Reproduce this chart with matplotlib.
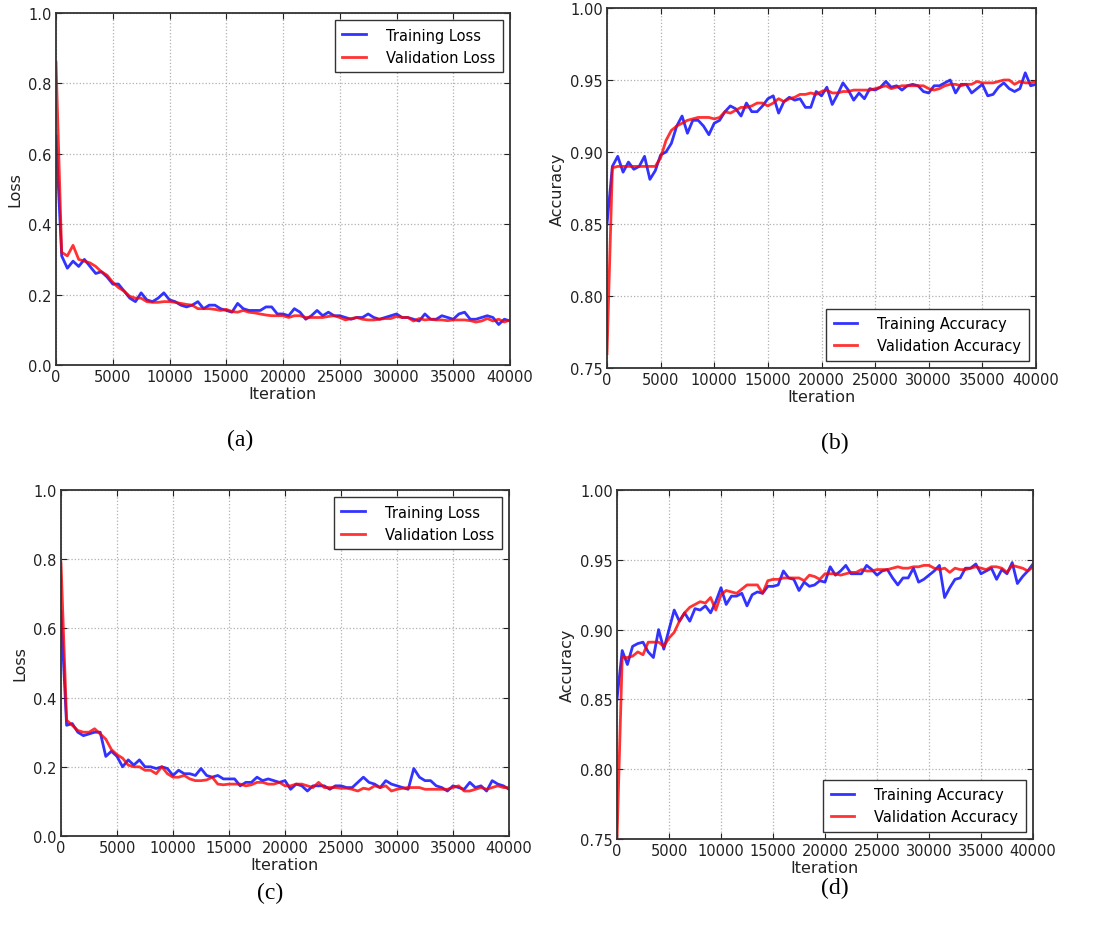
import numpy as np
import matplotlib
matplotlib.use("Agg")
import matplotlib.pyplot as plt

# iterations sampled every 500 steps
iters = np.arange(0, 40001, 500)

# (a) loss
train_loss_a = [0.65, 0.31, 0.275, 0.295, 0.28, 0.30, 0.28, 0.26, 0.265, 0.25,
                0.23, 0.23, 0.21, 0.19, 0.18, 0.205, 0.185, 0.18, 0.19, 0.205,
                0.185, 0.18, 0.17, 0.165, 0.17, 0.18, 0.16, 0.17, 0.17, 0.16,
                0.155, 0.15, 0.175, 0.16, 0.155, 0.155, 0.155, 0.165, 0.165, 0.145,
                0.145, 0.14, 0.16, 0.15, 0.13, 0.14, 0.155, 0.14, 0.15, 0.14,
                0.14, 0.135, 0.13, 0.135, 0.135, 0.145, 0.135, 0.13, 0.135, 0.14,
                0.145, 0.135, 0.135, 0.13, 0.125, 0.145, 0.13, 0.13, 0.14, 0.135,
                0.13, 0.145, 0.15, 0.13, 0.13, 0.135, 0.14, 0.135, 0.115, 0.13,
                0.125]
val_loss_a = [0.86, 0.32, 0.31, 0.34, 0.30, 0.295, 0.29, 0.28, 0.265, 0.255,
              0.235, 0.22, 0.21, 0.195, 0.19, 0.19, 0.18, 0.178, 0.178, 0.18,
              0.18, 0.178, 0.175, 0.172, 0.17, 0.16, 0.16, 0.16, 0.158, 0.155,
              0.158, 0.152, 0.15, 0.155, 0.15, 0.148, 0.145, 0.142, 0.14, 0.14,
              0.14, 0.135, 0.14, 0.14, 0.135, 0.135, 0.135, 0.135, 0.138, 0.14,
              0.135, 0.128, 0.132, 0.135, 0.13, 0.128, 0.128, 0.13, 0.132, 0.132,
              0.138, 0.135, 0.135, 0.125, 0.132, 0.128, 0.13, 0.128, 0.128, 0.126,
              0.128, 0.128, 0.128, 0.126, 0.122, 0.125, 0.132, 0.125, 0.13, 0.122,
              0.128]

# (b) accuracy
train_acc_b = [0.85, 0.89, 0.897, 0.886, 0.893, 0.888, 0.89, 0.897, 0.881, 0.887,
               0.898, 0.90, 0.906, 0.918, 0.925, 0.913, 0.922, 0.922, 0.918, 0.912,
               0.92, 0.922, 0.928, 0.932, 0.93, 0.925, 0.934, 0.928, 0.928, 0.932,
               0.937, 0.939, 0.927, 0.935, 0.938, 0.936, 0.937, 0.931, 0.931, 0.942,
               0.939, 0.945, 0.933, 0.94, 0.948, 0.943, 0.936, 0.941, 0.937, 0.944,
               0.943, 0.945, 0.949, 0.945, 0.946, 0.943, 0.946, 0.947, 0.946, 0.942,
               0.941, 0.946, 0.946, 0.948, 0.95, 0.941, 0.947, 0.947, 0.941, 0.944,
               0.947, 0.939, 0.94, 0.945, 0.948, 0.944, 0.942, 0.944, 0.955, 0.946,
               0.947]
val_acc_b = [0.76, 0.889, 0.89, 0.89, 0.89, 0.89, 0.89, 0.89, 0.89, 0.89,
             0.896, 0.908, 0.915, 0.918, 0.92, 0.922, 0.923, 0.924, 0.924, 0.924,
             0.923, 0.924, 0.928, 0.927, 0.929, 0.931, 0.931, 0.932, 0.934, 0.934,
             0.932, 0.934, 0.937, 0.935, 0.937, 0.938, 0.94, 0.94, 0.941, 0.94,
             0.942, 0.943, 0.941, 0.941, 0.942, 0.942, 0.943, 0.943, 0.943, 0.943,
             0.944, 0.945, 0.946, 0.944, 0.945, 0.946, 0.946, 0.946, 0.946, 0.946,
             0.944, 0.943, 0.944, 0.946, 0.947, 0.947, 0.946, 0.947, 0.947, 0.949,
             0.948, 0.948, 0.948, 0.949, 0.95, 0.95, 0.947, 0.949, 0.948, 0.948,
             0.949]

# (c) loss
train_loss_c = [0.65, 0.32, 0.325, 0.30, 0.29, 0.295, 0.30, 0.30, 0.23, 0.245,
                0.23, 0.20, 0.22, 0.205, 0.22, 0.20, 0.20, 0.195, 0.20, 0.195,
                0.175, 0.19, 0.18, 0.18, 0.175, 0.195, 0.175, 0.17, 0.175, 0.165,
                0.165, 0.165, 0.145, 0.155, 0.155, 0.17, 0.16, 0.165, 0.16, 0.155,
                0.16, 0.135, 0.15, 0.145, 0.13, 0.145, 0.145, 0.145, 0.135, 0.145,
                0.145, 0.14, 0.14, 0.155, 0.17, 0.155, 0.15, 0.14, 0.16, 0.15,
                0.145, 0.14, 0.135, 0.195, 0.17, 0.16, 0.16, 0.145, 0.14, 0.13,
                0.145, 0.14, 0.135, 0.155, 0.14, 0.145, 0.13, 0.16, 0.15, 0.145,
                0.135]
val_loss_c = [0.79, 0.335, 0.32, 0.305, 0.30, 0.30, 0.31, 0.295, 0.28, 0.25,
              0.235, 0.225, 0.205, 0.20, 0.20, 0.19, 0.19, 0.18, 0.20, 0.18,
              0.17, 0.17, 0.175, 0.165, 0.16, 0.16, 0.162, 0.17, 0.15, 0.148,
              0.15, 0.15, 0.15, 0.145, 0.148, 0.155, 0.155, 0.15, 0.15, 0.155,
              0.145, 0.145, 0.15, 0.15, 0.145, 0.14, 0.155, 0.14, 0.14, 0.14,
              0.138, 0.138, 0.135, 0.13, 0.138, 0.135, 0.145, 0.14, 0.145, 0.13,
              0.135, 0.138, 0.14, 0.14, 0.14, 0.135, 0.135, 0.135, 0.135, 0.135,
              0.14, 0.145, 0.13, 0.13, 0.135, 0.14, 0.135, 0.14, 0.145, 0.14,
              0.14]

# (d) accuracy
train_acc_d = [0.85, 0.885, 0.875, 0.888, 0.89, 0.891, 0.884, 0.88, 0.90, 0.886,
               0.90, 0.914, 0.906, 0.912, 0.906, 0.915, 0.914, 0.917, 0.912, 0.92,
               0.93, 0.918, 0.924, 0.924, 0.926, 0.917, 0.925, 0.927, 0.926, 0.931,
               0.931, 0.932, 0.942, 0.937, 0.936, 0.928, 0.934, 0.931, 0.932, 0.935,
               0.934, 0.945, 0.939, 0.942, 0.946, 0.94, 0.94, 0.94, 0.946, 0.943,
               0.939, 0.942, 0.943, 0.937, 0.932, 0.937, 0.937, 0.944, 0.934, 0.936,
               0.939, 0.942, 0.946, 0.923, 0.93, 0.936, 0.937, 0.944, 0.944, 0.947,
               0.94, 0.942, 0.944, 0.936, 0.943, 0.94, 0.948, 0.933, 0.938, 0.942,
               0.947]
val_acc_d = [0.75, 0.88, 0.88, 0.881, 0.884, 0.882, 0.891, 0.891, 0.891, 0.888,
             0.894, 0.898, 0.906, 0.912, 0.916, 0.918, 0.92, 0.919, 0.923, 0.914,
             0.925, 0.928, 0.927, 0.926, 0.929, 0.932, 0.932, 0.932, 0.926, 0.935,
             0.936, 0.936, 0.937, 0.937, 0.937, 0.937, 0.935, 0.939, 0.938, 0.936,
             0.94, 0.94, 0.94, 0.939, 0.94, 0.941, 0.941, 0.943, 0.942, 0.942,
             0.943, 0.943, 0.943, 0.944, 0.945, 0.944, 0.944, 0.945, 0.945, 0.946,
             0.946, 0.944, 0.943, 0.944, 0.941, 0.944, 0.943, 0.943, 0.944, 0.945,
             0.944, 0.943, 0.945, 0.945, 0.944, 0.941, 0.946, 0.945, 0.944, 0.942,
             0.945]

W, H = 1106, 937
fig = plt.figure(figsize=(W / 100, H / 100), dpi=100)
fig.patch.set_facecolor("white")


def box(l, r, t, b):
    return [l / W, 1 - b / H, (r - l) / W, (b - t) / H]


def panel(rect, train, val, kind):
    ax = fig.add_axes(rect)
    if kind == "loss":
        lab_t, lab_v = "Training Loss", "Validation Loss"
    else:
        lab_t, lab_v = "Training Accuracy", "Validation Accuracy"
    ax.plot(iters, train, color="#0000ff", lw=2, alpha=0.8, label=lab_t)
    ax.plot(iters, val, color="#ff0000", lw=2, alpha=0.8, label=lab_v)
    ax.set_xlim(0, 40000)
    ax.set_xticks(np.arange(0, 40001, 5000))
    if kind == "loss":
        ax.set_ylim(0, 1.0)
        ax.set_yticks(np.arange(0, 1.01, 0.2))
        ax.set_yticklabels(["%.1f" % v for v in np.arange(0, 1.01, 0.2)])
        ax.set_ylabel("Loss", fontsize=11.5, color="#222222")
        loc = "upper right"
    else:
        ax.set_ylim(0.75, 1.0)
        ax.set_yticks(np.arange(0.75, 1.001, 0.05))
        ax.set_yticklabels(["%.2f" % v for v in np.arange(0.75, 1.001, 0.05)])
        ax.set_ylabel("Accuracy", fontsize=11.5, color="#222222")
        loc = "lower right"
    ax.set_xlabel("Iteration", fontsize=11.5, color="#222222", labelpad=1)
    ax.grid(True, linestyle=":", color="#b0b0b0", lw=0.9)
    ax.tick_params(direction="in", top=True, right=True, labelsize=10.5,
                   colors="#222222", length=4, pad=3)
    for s in ax.spines.values():
        s.set_linewidth(1.3)
        s.set_color("#333333")
    leg = ax.legend(loc=loc, fontsize=10.5, fancybox=False, framealpha=1,
                    edgecolor="#333333", handlelength=1.6, handletextpad=1.4,
                    borderpad=0.5)
    leg.get_frame().set_linewidth(1.0)
    return ax


panel(box(56, 510, 14, 366), train_loss_a, val_loss_a, "loss")
panel(box(607, 1036, 9, 369), train_acc_b, val_acc_b, "acc")
panel(box(61, 509, 491, 837), train_loss_c, val_loss_c, "loss")
panel(box(617, 1033, 491, 840), train_acc_d, val_acc_d, "acc")

serif = dict(family="Liberation Serif", fontsize=17, ha="center", va="center")
fig.text(240 / W, 1 - 440 / H, "(a)", **serif)
fig.text(835 / W, 1 - 443 / H, "(b)", **serif)
fig.text(270 / W, 1 - 893 / H, "(c)", **serif)
fig.text(835 / W, 1 - 888 / H, "(d)", **serif)

fig.savefig("out.png", dpi=100)
